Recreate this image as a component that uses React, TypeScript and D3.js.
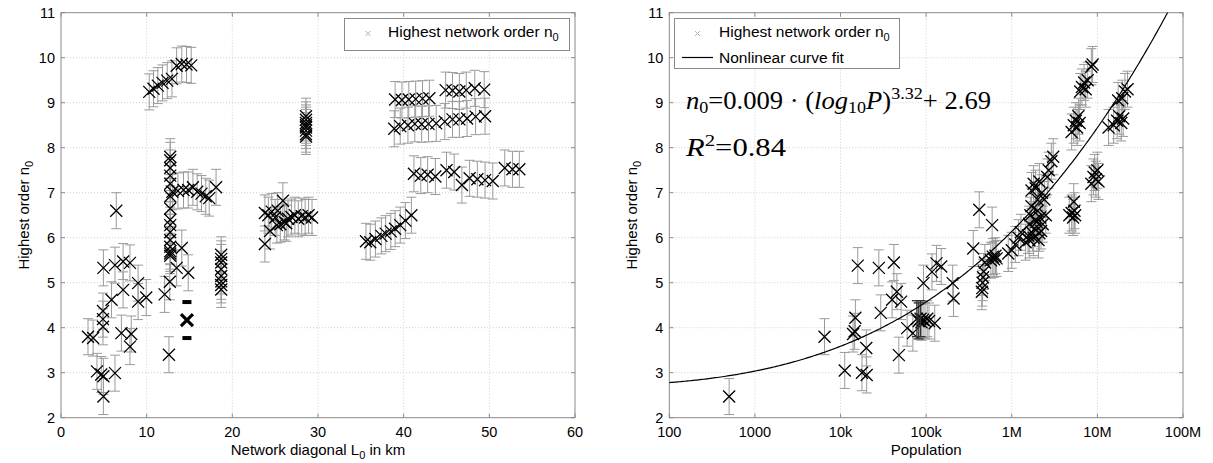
import * as d3 from "d3";
import { useEffect, useRef } from "react";

const W = 1213;
const H = 463;
const TOP = 12.7;
const BOTTOM = 417.7;
const ERR = 0.4;

const yTicks = [2, 3, 4, 5, 6, 7, 8, 9, 10, 11];
const diagTicks = [0, 10, 20, 30, 40, 50, 60];
const popTicks = [1e2, 1e3, 1e4, 1e5, 1e6, 1e7, 1e8];
const popTickLabels = ["100", "1000", "10k", "100k", "1M", "10M", "100M"];

// left panel: network diagonal (km) vs n0
const diagScatter: [number, number][] = [
  [3.15, 3.8], [3.75, 3.77], [4.2, 3.03], [4.7, 2.96], [4.95, 2.92], [4.95, 2.47],
  [4.9, 4.37], [4.9, 4.19], [4.9, 4.02], [4.95, 5.33], [5.9, 4.62], [6.45, 6.6],
  [6.3, 2.99], [6.3, 5.39], [7.25, 4.84], [7.05, 3.88], [7.25, 5.47], [8.05, 5.44],
  [8.2, 3.86], [8.05, 3.58], [9.0, 4.99], [9.0, 4.58], [9.95, 4.67], [12.1, 4.74],
  [12.6, 3.4], [12.7, 5.02], [13.5, 5.33], [14.1, 5.77], [14.85, 5.22],
];
const diagColumn13: [number, number][] = [
  [12.75, 7.8], [12.75, 7.72], [12.75, 7.55], [12.75, 7.38], [12.75, 7.2], [12.75, 6.92],
  [12.75, 6.65], [12.75, 6.4], [12.75, 6.28], [12.75, 6.12], [12.75, 5.95], [12.75, 5.8],
  [12.75, 5.7], [12.75, 5.65], [12.75, 5.6],
];
const diagTop: [number, number][] = [
  [10.3, 9.24], [10.8, 9.31], [11.3, 9.38], [11.85, 9.44], [12.4, 9.49], [12.95, 9.53],
  [13.5, 9.82], [14.1, 9.86], [14.65, 9.85], [15.2, 9.83],
];
const diagSeven: [number, number][] = [
  [13.0, 7.02], [13.65, 7.04], [14.3, 7.06], [14.85, 7.06], [15.4, 7.12], [15.9, 7.02],
  [16.4, 6.98], [16.9, 6.92], [17.3, 6.88], [18.1, 7.12],
];
const diagColumn19: [number, number][] = [
  [18.7, 5.62], [18.7, 5.53], [18.7, 5.45], [18.7, 5.3], [18.7, 5.15], [18.7, 5.03],
  [18.7, 4.95], [18.7, 4.85],
];
const diagMid: [number, number][] = [
  [23.8, 5.86], [24.4, 6.15], [23.8, 6.55], [24.2, 6.5], [24.6, 6.58], [25.0, 6.45],
  [25.3, 6.6], [25.6, 6.3], [25.9, 6.82], [26.1, 6.35], [26.5, 6.42], [26.9, 6.46],
  [27.3, 6.5], [27.7, 6.42], [28.1, 6.48], [28.5, 6.45], [28.9, 6.5], [29.3, 6.45],
  [25.2, 6.28], [26.3, 6.32],
];
const diagColumn29: [number, number][] = [
  [28.6, 8.7], [28.6, 8.62], [28.6, 8.55], [28.6, 8.5], [28.6, 8.45], [28.6, 8.38],
  [28.6, 8.3], [28.6, 8.25],
];
const diagRise: [number, number][] = [
  [35.6, 5.92], [36.1, 5.9], [36.7, 5.97], [37.4, 6.04], [37.9, 6.09], [38.5, 6.14],
  [39.0, 6.2], [39.6, 6.28], [40.2, 6.38], [40.9, 6.5],
];
const diagUpper: [number, number][] = [
  [39.0, 9.07], [39.8, 9.06], [40.6, 9.07], [41.4, 9.08], [42.2, 9.09], [43.0, 9.1],
  [44.9, 9.28], [45.7, 9.27], [46.5, 9.25], [47.3, 9.28], [48.3, 9.32], [49.4, 9.29],
];
const diagLower: [number, number][] = [
  [38.9, 8.42], [39.6, 8.48], [40.5, 8.5], [41.3, 8.53], [42.1, 8.52], [42.9, 8.53],
  [43.8, 8.54], [44.8, 8.58], [45.7, 8.63], [46.5, 8.63], [47.4, 8.65], [48.4, 8.69],
  [49.5, 8.7],
];
const diagSevenFar: [number, number][] = [
  [41.2, 7.42], [42.0, 7.38], [42.8, 7.4], [43.7, 7.36], [45.0, 7.5], [45.9, 7.46],
  [46.8, 7.17], [47.7, 7.32], [48.6, 7.3], [49.5, 7.28], [50.4, 7.26], [51.8, 7.55],
  [52.7, 7.52], [53.5, 7.52],
];
const diagBold: [number, number][] = [[14.7, 4.17]];

// right panel: population vs n0
const popSparse: [number, number][] = [
  [500, 2.47], [6500, 3.8], [11200, 3.05], [14000, 3.86], [14600, 3.92], [14900, 4.22],
  [15900, 5.38], [17800, 3.0], [20200, 2.95], [20000, 3.55], [28000, 5.33], [29500, 4.33],
  [42000, 5.45], [40000, 4.62], [45500, 4.8], [51000, 4.58], [48000, 3.39], [60000, 3.99],
  [70000, 3.88], [93000, 4.99], [126000, 4.1], [117000, 5.24], [132000, 5.43], [150000, 5.36],
  [204000, 4.99], [209000, 4.65], [355000, 5.76], [417000, 6.62], [590000, 6.28],
];
const popCluster90k: [number, number][] = [
  [78000, 4.2], [82000, 4.15], [86000, 4.2], [88000, 4.12], [92000, 4.18], [97000, 4.15],
  [103000, 4.2], [108000, 4.15],
];
const popHalfMillion: [number, number][] = [
  [447000, 4.8], [452000, 4.88], [456000, 5.0], [462000, 5.12], [470000, 5.25],
  [485000, 5.45], [570000, 5.5], [600000, 5.58], [620000, 5.52], [645000, 5.6], [665000, 5.54],
  [910000, 5.65], [1000000, 5.72], [1100000, 5.85], [1200000, 6.0], [1280000, 6.12],
];
const popMillions: [number, number][] = [
  [1450000, 5.9], [1550000, 6.05], [1600000, 6.3], [1650000, 6.5], [1700000, 7.05],
  [1750000, 6.1], [1800000, 6.0], [1850000, 6.2], [1900000, 7.1], [1950000, 6.35],
  [2000000, 6.6], [2050000, 5.95], [2100000, 7.25], [2150000, 6.45], [2200000, 6.15],
  [2250000, 7.0], [2300000, 6.3], [2400000, 6.85], [2500000, 6.5], [1700000, 6.7],
  [1800000, 7.2], [2000000, 6.85], [2100000, 6.1], [1600000, 5.95], [1900000, 6.4],
  [2600000, 7.35], [2700000, 7.5], [2900000, 7.7], [3050000, 7.8],
];
const popLarge: [number, number][] = [
  [4700000, 6.5], [5000000, 6.55], [5200000, 6.45], [5400000, 6.6], [5500000, 6.5], [5300000, 6.8],
  [5000000, 8.35], [5300000, 8.5], [5600000, 8.6], [5800000, 8.45], [6000000, 8.7], [6200000, 8.55],
  [6300000, 9.25], [6600000, 9.35], [7000000, 9.45], [7300000, 9.3], [7700000, 9.5],
  [8500000, 9.8], [8800000, 9.85],
  [8500000, 7.2], [9000000, 7.35], [9300000, 7.45], [9600000, 7.3], [10000000, 7.5], [10300000, 7.25],
  [13500000, 8.45], [15500000, 8.5], [17000000, 8.6], [18000000, 8.7], [19000000, 8.55],
  [20000000, 8.65], [17500000, 9.05], [19500000, 9.1], [21000000, 9.25], [22500000, 9.3],
];

const diagPoints = [
  ...diagScatter, ...diagColumn13, ...diagTop, ...diagSeven, ...diagColumn19, ...diagMid,
  ...diagColumn29, ...diagRise, ...diagUpper, ...diagLower, ...diagSevenFar,
];
const popPoints = [...popSparse, ...popCluster90k, ...popHalfMillion, ...popMillions, ...popLarge];

const FONT = "'Liberation Sans', Arial, sans-serif";
const SERIF = "'Liberation Serif', 'Times New Roman', serif";
const GRID = "#cfcfcf";
const AXIS = "#8a8a8a";
const BAR = "#9a9a9a";
const M = 6;
const CAP = 5;

type Scale = (v: number) => number;

function drawPanel(
  svg: d3.Selection<SVGSVGElement, unknown, null, undefined>,
  x: Scale,
  y: d3.ScaleLinear<number, number>,
  xTicks: number[],
  xLabels: string[],
  points: [number, number][],
  bold: [number, number][],
  x0: number,
  x1: number
) {
  const g = svg.append("g");

  // grid
  g.selectAll(".gx")
    .data(xTicks.slice(1, -1))
    .enter()
    .append("line")
    .attr("x1", (d) => x(d))
    .attr("x2", (d) => x(d))
    .attr("y1", TOP)
    .attr("y2", BOTTOM)
    .attr("stroke", GRID)
    .attr("stroke-dasharray", "1,2");
  g.selectAll(".gy")
    .data(yTicks.slice(1, -1))
    .enter()
    .append("line")
    .attr("x1", x0)
    .attr("x2", x1)
    .attr("y1", (d) => y(d))
    .attr("y2", (d) => y(d))
    .attr("stroke", GRID)
    .attr("stroke-dasharray", "1,2");

  // error bars
  const bars = g.append("g").attr("stroke", BAR).attr("stroke-width", 1).attr("fill", "none");
  points.forEach(([px, py]) => {
    const cx = x(px);
    bars
      .append("path")
      .attr(
        "d",
        `M${cx},${y(py + ERR)}V${y(py - ERR)}M${cx - CAP},${y(py + ERR)}H${cx + CAP}M${cx - CAP},${y(py - ERR)}H${cx + CAP}`
      );
  });

  // markers
  const marks = g.append("g").attr("stroke", "#000").attr("stroke-width", 1.3).attr("fill", "none");
  points.forEach(([px, py]) => {
    const cx = x(px);
    const cy = y(py);
    marks
      .append("path")
      .attr("d", `M${cx - M},${cy - M}L${cx + M},${cy + M}M${cx - M},${cy + M}L${cx + M},${cy - M}`);
  });

  // heavy points
  bold.forEach(([px, py]) => {
    const cx = x(px);
    const cy = y(py);
    g.append("path")
      .attr("d", `M${cx - M},${cy - M}L${cx + M},${cy + M}M${cx - M},${cy + M}L${cx + M},${cy - M}`)
      .attr("stroke", "#000")
      .attr("stroke-width", 3.2);
    [py + ERR, py - ERR].forEach((v) => {
      g.append("rect")
        .attr("x", cx - 4.5)
        .attr("y", y(v) - 2)
        .attr("width", 9)
        .attr("height", 4)
        .attr("fill", "#000");
    });
  });

  // box and ticks
  g.append("rect")
    .attr("x", x0)
    .attr("y", TOP)
    .attr("width", x1 - x0)
    .attr("height", BOTTOM - TOP)
    .attr("fill", "none")
    .attr("stroke", AXIS);
  const ticks = g.append("g").attr("stroke", AXIS);
  xTicks.forEach((t) => {
    ticks.append("line").attr("x1", x(t)).attr("x2", x(t)).attr("y1", BOTTOM).attr("y2", BOTTOM - 4);
    ticks.append("line").attr("x1", x(t)).attr("x2", x(t)).attr("y1", TOP).attr("y2", TOP + 4);
  });
  yTicks.forEach((t) => {
    ticks.append("line").attr("x1", x0).attr("x2", x0 + 4).attr("y1", y(t)).attr("y2", y(t));
    ticks.append("line").attr("x1", x1).attr("x2", x1 - 4).attr("y1", y(t)).attr("y2", y(t));
  });

  // tick labels
  g.selectAll(".xl")
    .data(xTicks)
    .enter()
    .append("text")
    .attr("x", (d) => x(d))
    .attr("y", 437)
    .attr("text-anchor", "middle")
    .attr("font-family", FONT)
    .attr("font-size", 14.5)
    .text((_, i) => xLabels[i]);
  g.selectAll(".yl")
    .data(yTicks)
    .enter()
    .append("text")
    .attr("x", x0 - 6)
    .attr("y", (d) => y(d) + 5)
    .attr("text-anchor", "end")
    .attr("font-family", FONT)
    .attr("font-size", 14.5)
    .text((d) => d);

  // y title
  const yt = g
    .append("text")
    .attr("transform", `translate(${x0 - 32},${(TOP + BOTTOM) / 2}) rotate(-90)`)
    .attr("text-anchor", "middle")
    .attr("font-family", FONT)
    .attr("font-size", 15);
  yt.append("tspan").text("Highest order n");
  yt.append("tspan").attr("font-size", 11).attr("dy", 4).text("0");

  return g;
}

function legendEntry(
  g: d3.Selection<SVGGElement, unknown, null, undefined>,
  mx: number,
  my: number
) {
  g.append("path")
    .attr("d", `M${mx - 2.5},${my - 2.5}L${mx + 2.5},${my + 2.5}M${mx - 2.5},${my + 2.5}L${mx + 2.5},${my - 2.5}`)
    .attr("stroke", "#b0b0b0")
    .attr("stroke-width", 1);
}

const App = () => {
  const ref = useRef<SVGSVGElement | null>(null);

  useEffect(() => {
    if (!ref.current) return;
    const svg = d3.select(ref.current);
    svg.selectAll("*").remove();

    // left panel
    const lx0 = 61;
    const lx1 = 575;
    const xl = d3.scaleLinear([0, 60], [lx0, lx1]);
    const yl = d3.scaleLinear([2, 11], [BOTTOM, TOP]);
    const gl = drawPanel(svg, xl, yl, diagTicks, diagTicks.map(String), diagPoints, diagBold, lx0, lx1);
    const lt = gl
      .append("text")
      .attr("x", (lx0 + lx1) / 2)
      .attr("y", 455)
      .attr("text-anchor", "middle")
      .attr("font-family", FONT)
      .attr("font-size", 15);
    lt.append("tspan").text("Network diagonal L");
    lt.append("tspan").attr("font-size", 11).attr("dy", 4).text("0");
    lt.append("tspan").attr("dy", -4).text(" in km");

    const ll = gl.append("g");
    ll.append("rect")
      .attr("x", 344.5)
      .attr("y", 18.5)
      .attr("width", 225)
      .attr("height", 32)
      .attr("fill", "#fff")
      .attr("stroke", AXIS);
    legendEntry(ll, 368, 33.5);
    const lle = ll
      .append("text")
      .attr("x", 388)
      .attr("y", 37)
      .attr("font-family", FONT)
      .attr("font-size", 15.5);
    lle.append("tspan").text("Highest network order n");
    lle.append("tspan").attr("font-size", 11).attr("dy", 4).text("0");

    // right panel
    const rx0 = 669.3;
    const rx1 = 1183;
    const xr = d3.scaleLog([1e2, 1e8], [rx0, rx1]);
    const yr = d3.scaleLinear([2, 11], [BOTTOM, TOP]);
    const gr = drawPanel(svg, xr, yr, popTicks, popTickLabels, popPoints, [], rx0, rx1);

    // darker error bars for the dense cluster around 90k
    const dark = gr.append("g").attr("stroke", "#333").attr("stroke-width", 1.2).attr("fill", "none");
    popCluster90k.slice(0, 3).forEach(([px, py]) => {
      const cx = xr(px);
      dark
        .append("path")
        .attr("d", `M${cx},${yr(py + ERR)}V${yr(py - ERR)}M${cx - CAP},${yr(py + ERR)}H${cx + CAP}M${cx - CAP},${yr(py - ERR)}H${cx + CAP}`);
    });

    // nonlinear fit
    const fit = (p: number) => 0.009 * Math.pow(Math.log10(p), 3.32) + 2.69;
    const exps = d3.range(2, 8.001, 0.02).filter((e) => fit(Math.pow(10, e)) <= 11);
    const last = Math.log10(Math.pow((11 - 2.69) / 0.009, 1 / 3.32));
    const curve = [...exps.map((e) => Math.pow(10, e)), Math.pow(10, Math.pow(10, last))];
    gr.append("path")
      .datum(curve)
      .attr("fill", "none")
      .attr("stroke", "#000")
      .attr("stroke-width", 1.2)
      .attr(
        "d",
        d3
          .line<number>()
          .x((p) => xr(p))
          .y((p) => yr(fit(p)))
      );

    gr.append("text")
      .attr("x", (rx0 + rx1) / 2)
      .attr("y", 455)
      .attr("text-anchor", "middle")
      .attr("font-family", FONT)
      .attr("font-size", 15)
      .text("Population");

    const rl = gr.append("g");
    rl.append("rect")
      .attr("x", 674.5)
      .attr("y", 18.5)
      .attr("width", 225)
      .attr("height", 50)
      .attr("fill", "#fff")
      .attr("stroke", AXIS);
    legendEntry(rl, 697.5, 33.5);
    const rle = rl
      .append("text")
      .attr("x", 719)
      .attr("y", 37)
      .attr("font-family", FONT)
      .attr("font-size", 15.5);
    rle.append("tspan").text("Highest network order n");
    rle.append("tspan").attr("font-size", 11).attr("dy", 4).text("0");
    rl.append("line")
      .attr("x1", 682)
      .attr("x2", 713)
      .attr("y1", 57.5)
      .attr("y2", 57.5)
      .attr("stroke", "#000")
      .attr("stroke-width", 1.2);
    rl.append("text")
      .attr("x", 719)
      .attr("y", 63)
      .attr("font-family", FONT)
      .attr("font-size", 15.5)
      .text("Nonlinear curve fit");

    // equation
    const eq = gr
      .append("text")
      .attr("x", 686)
      .attr("y", 109)
      .attr("font-family", SERIF)
      .attr("font-size", 25)
      .attr("textLength", 305)
      .attr("lengthAdjust", "spacingAndGlyphs");
    eq.append("tspan").attr("font-style", "italic").text("n");
    eq.append("tspan").attr("font-size", 17).attr("dy", 4).text("0");
    eq.append("tspan").attr("dy", -4).text("=0.009 · (");
    eq.append("tspan").attr("font-style", "italic").text("log");
    eq.append("tspan").attr("font-size", 17).attr("dy", 4).text("10");
    eq.append("tspan").attr("font-style", "italic").attr("dy", -4).text("P");
    eq.append("tspan").text(")");
    eq.append("tspan").attr("font-size", 17).attr("dy", -10).text("3.32");
    eq.append("tspan").attr("dy", 10).text("+ 2.69");

    const r2 = gr
      .append("text")
      .attr("x", 686)
      .attr("y", 156)
      .attr("font-family", SERIF)
      .attr("font-size", 25)
      .attr("textLength", 100)
      .attr("lengthAdjust", "spacingAndGlyphs");
    r2.append("tspan").attr("font-style", "italic").text("R");
    r2.append("tspan").attr("font-size", 17).attr("dy", -10).text("2");
    r2.append("tspan").attr("dy", 10).text("=0.84");
  }, []);

  return (
    <svg
      ref={ref}
      width={W}
      height={H}
      style={{ position: "absolute", left: 0, top: 0, background: "#fff" }}
    />
  );
};

export default App;
